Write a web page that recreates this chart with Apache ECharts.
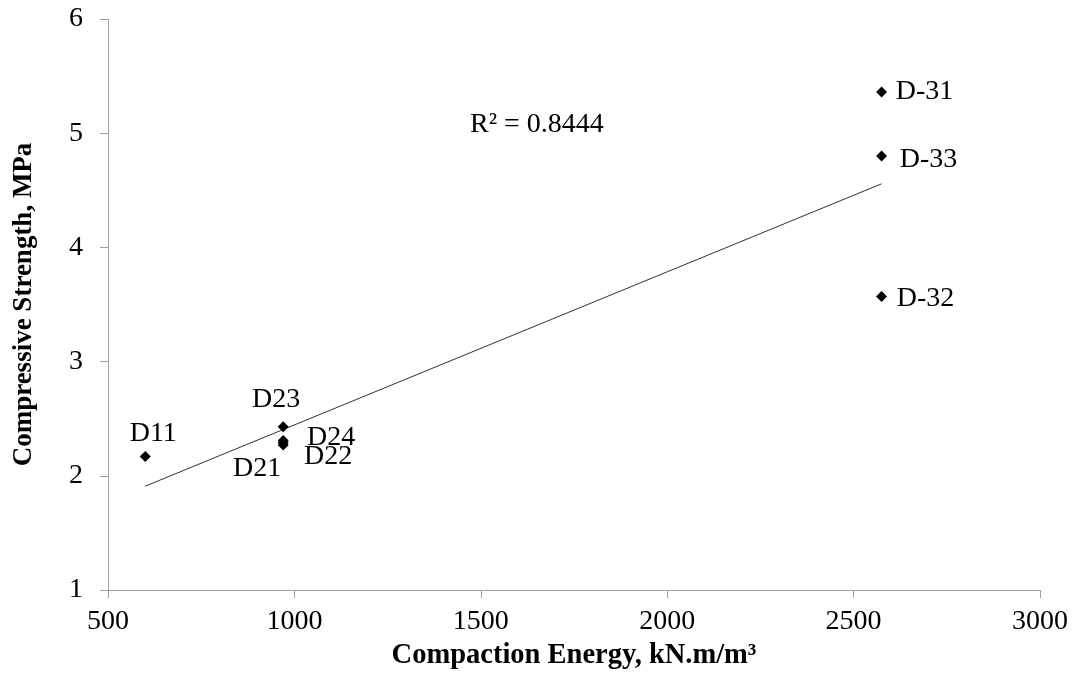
<!DOCTYPE html>
<html><head><meta charset="utf-8">
<script src="https://cdn.jsdelivr.net/npm/echarts@6/dist/echarts.min.js"></script>
<style>html,body{margin:0;padding:0;background:#fff}#c{width:1077px;height:679px}</style>
</head><body><div id="c"></div>
<script>
const names = ['D11','D21','D22','D23','D24','D-31','D-32','D-33'];
const energy = [600, 970, 970, 970, 970, 2575, 2575, 2575];
const strength = [2.17, 2.27, 2.29, 2.43, 2.31, 5.36, 3.57, 4.80];
const xTicks = [500, 1000, 1500, 2000, 2500, 3000];
const yTicks = [1, 2, 3, 4, 5, 6];
const r2Text = 'R² = 0.8444';

// label placement (style, not data)
const labelOffsets = {
  'D11': [8, -23], 'D21': [-26, 24], 'D22': [45, 14], 'D23': [-7, -27], 'D24': [48, -3],
  'D-31': [43, 0], 'D-32': [44, 2], 'D-33': [47, 4]
};

// linear least-squares trendline from data
const n = energy.length;
const mx = energy.reduce((a,b)=>a+b,0)/n, my = strength.reduce((a,b)=>a+b,0)/n;
let sxy = 0, sxx = 0;
for (let i=0;i<n;i++){ sxy += (energy[i]-mx)*(strength[i]-my); sxx += (energy[i]-mx)**2; }
const slope = sxy/sxx, icpt = my - slope*mx;
const xMin = Math.min(...energy), xMax = Math.max(...energy);
const trend = [[xMin, icpt+slope*xMin],[xMax, icpt+slope*xMax]];

const FONT = '"Liberation Serif","Times New Roman",serif';
const chart = echarts.init(document.getElementById('c'));
chart.setOption({
  animation: false,
  grid: { left: 108, right: 37, top: 19, bottom: 89 },
  xAxis: {
    type: 'value', min: xTicks[0], max: xTicks[xTicks.length-1], interval: 500,
    name: 'Compaction Energy, kN.m/m³', nameLocation: 'middle', nameGap: 50,
    nameTextStyle: { fontFamily: FONT, fontWeight: 'bold', fontSize: 28.5, color: '#000' },
    axisLine: { lineStyle: { color: '#a0a0a0', width: 1 } },
    axisTick: { show: true, inside: false, length: 8, lineStyle: { color: '#a0a0a0' } },
    axisLabel: { fontFamily: FONT, fontSize: 28, color: '#000', margin: 18, formatter: v => String(v) },
    splitLine: { show: false }
  },
  yAxis: {
    type: 'value', min: yTicks[0], max: yTicks[yTicks.length-1], interval: 1,
    name: 'Compressive Strength, MPa', nameLocation: 'middle', nameGap: 70,
    nameTextStyle: { fontFamily: FONT, fontWeight: 'bold', fontSize: 27, color: '#000' },
    axisLine: { show: true, lineStyle: { color: '#a0a0a0', width: 1 } },
    axisTick: { show: true, inside: false, length: 8, lineStyle: { color: '#a0a0a0' } },
    axisLabel: { fontFamily: FONT, fontSize: 28, color: '#000', margin: 25 },
    splitLine: { show: false }
  },
  series: [
    {
      type: 'line', data: trend, symbol: 'none', silent: true,
      lineStyle: { color: '#303030', width: 1 }, z: 1
    },
    {
      type: 'scatter', symbol: 'diamond', symbolSize: 11,
      itemStyle: { color: '#000', opacity: 1 }, z: 3,
      data: names.map((nm, i) => ({
        value: [energy[i], strength[i]], name: nm,
        label: { show: true, formatter: nm, position: 'inside', offset: labelOffsets[nm],
          align: 'center', verticalAlign: 'middle',
          fontFamily: FONT, fontSize: 28, color: '#000' }
      }))
    }
  ],
  graphic: [{
    type: 'text', left: 470, top: 111,
    style: { text: r2Text, fontFamily: FONT, fontSize: 28, fill: '#000' }
  }]
});
</script></body></html>
